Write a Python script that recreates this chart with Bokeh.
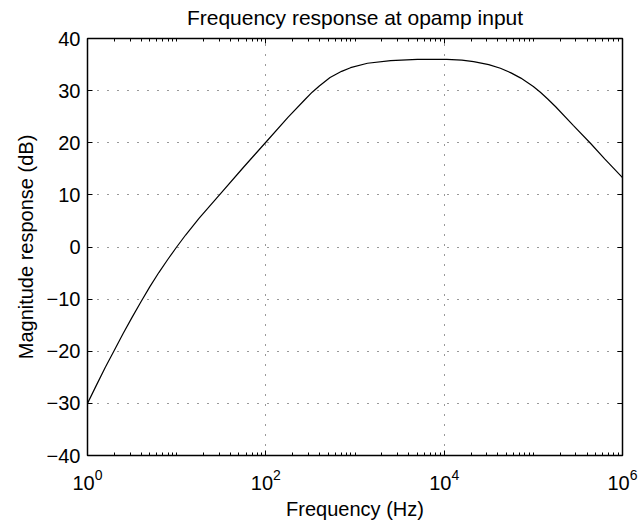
from bokeh.plotting import figure
from bokeh.models import FixedTicker, LinearAxis, LogAxis, Range1d
from bokeh.embed import file_html
from bokeh.resources import INLINE

# ---- data ----
freq_hz = [1, 1.26, 1.58, 2.0, 2.51, 3.16, 3.98, 5.01, 6.31, 7.94,
           10, 12.6, 17.8, 31.6, 56.2, 100, 178, 275, 331, 398,
           525, 708, 891, 1380, 2510, 5010, 7940, 10700, 15800, 21400,
           31600, 42700, 56200, 72400, 85100, 100000, 120000, 145000, 178000, 282000,
           437000, 631000, 1000000]
magnitude_db = [-30.0, -26.5, -23.1, -19.8, -16.6, -13.5, -10.5, -7.6, -4.9, -2.4,
                0.0, 2.3, 5.5, 10.4, 15.3, 20.1, 24.9, 28.3, 29.7, 30.9,
                32.5, 33.7, 34.4, 35.25, 35.77, 35.98, 36.02, 36.0, 35.85, 35.55,
                35.0, 34.3, 33.4, 32.4, 31.6, 30.8, 29.7, 28.4, 26.9, 23.3,
                19.9, 16.9, 13.3]

x_ticks = [1, 100, 10000, 1000000]
y_ticks = [-40, -30, -20, -10, 0, 10, 20, 30, 40]
y_tick_labels = ["\u221240", "\u221230", "\u221220", "\u221210", "0", "10", "20", "30", "40"]

title_text = "Frequency response at opamp input"
x_label = "Frequency (Hz)"
y_label = "Magnitude response (dB)"

FONT = "Liberation Sans"
FS = "20px"

minor = [k * 10 ** n for n in range(6) for k in range(2, 10)] + [10, 1000, 100000]
xticker = FixedTicker(ticks=x_ticks, minor_ticks=minor)
yticker = FixedTicker(ticks=y_ticks)

p = figure(width=639, height=522, x_axis_type="log",
           x_range=Range1d(1, 1e6), y_range=Range1d(-40, 40),
           output_backend="svg", toolbar_location=None,
           min_border_left=87, min_border_right=17,
           min_border_top=38, min_border_bottom=67)

p.line(freq_hz, magnitude_db, line_color="black", line_width=1.2)

p.outline_line_color = "black"
p.outline_line_width = 1.5
p.outline_line_alpha = 1.0

def style_axis(ax, ticker, labels=None, show_labels=True):
    ax.ticker = ticker
    ax.axis_line_color = None
    ax.major_tick_in = 5
    ax.major_tick_out = 0
    ax.minor_tick_in = 3
    ax.minor_tick_out = 0
    ax.major_tick_line_color = "black"
    ax.minor_tick_line_color = "black"
    ax.major_label_text_font = FONT
    ax.major_label_text_color = "black"
    if show_labels:
        ax.major_label_text_font_size = FS
        if labels is not None:
            ax.major_label_overrides = labels
    else:
        ax.major_label_text_font_size = "1px"
        ax.major_label_text_color = None
        ax.major_label_standoff = 0

xa = p.xaxis[0]
style_axis(xa, xticker)
xa.major_label_standoff = 13
xa.axis_label = x_label
xa.axis_label_text_font = FONT
xa.axis_label_text_font_size = FS
xa.axis_label_text_font_style = "normal"
xa.axis_label_text_color = "black"
xa.axis_label_standoff = 5

ya = p.yaxis[0]
style_axis(ya, yticker, {t: l for t, l in zip(y_ticks, y_tick_labels)})
ya.minor_tick_in = 0
ya.major_label_standoff = 7
ya.axis_label = y_label
ya.axis_label_text_font = FONT
ya.axis_label_text_font_size = FS
ya.axis_label_text_font_style = "normal"
ya.axis_label_text_color = "black"
ya.axis_label_standoff = 7

# top axis: inner ticks, and the chart title as its label
top_ax = LogAxis()
style_axis(top_ax, xticker, show_labels=False)
top_ax.axis_label = title_text
top_ax.axis_label_text_font = FONT
top_ax.axis_label_text_font_size = "21px"
top_ax.axis_label_text_font_style = "normal"
top_ax.axis_label_text_color = "black"
top_ax.axis_label_standoff = 10
p.add_layout(top_ax, "above")

right_ax = LinearAxis()
style_axis(right_ax, yticker, show_labels=False)
right_ax.minor_tick_in = 0
p.add_layout(right_ax, "right")

p.xgrid.ticker = xticker
p.ygrid.ticker = yticker
for g in (p.xgrid, p.ygrid):
    g.grid_line_color = "black"
    g.grid_line_alpha = 0.8
    g.grid_line_dash = "1 9"
    g.grid_line_width = 1

p.background_fill_color = "white"
p.border_fill_color = "white"

open("out.html", "w").write(file_html(p, INLINE))
